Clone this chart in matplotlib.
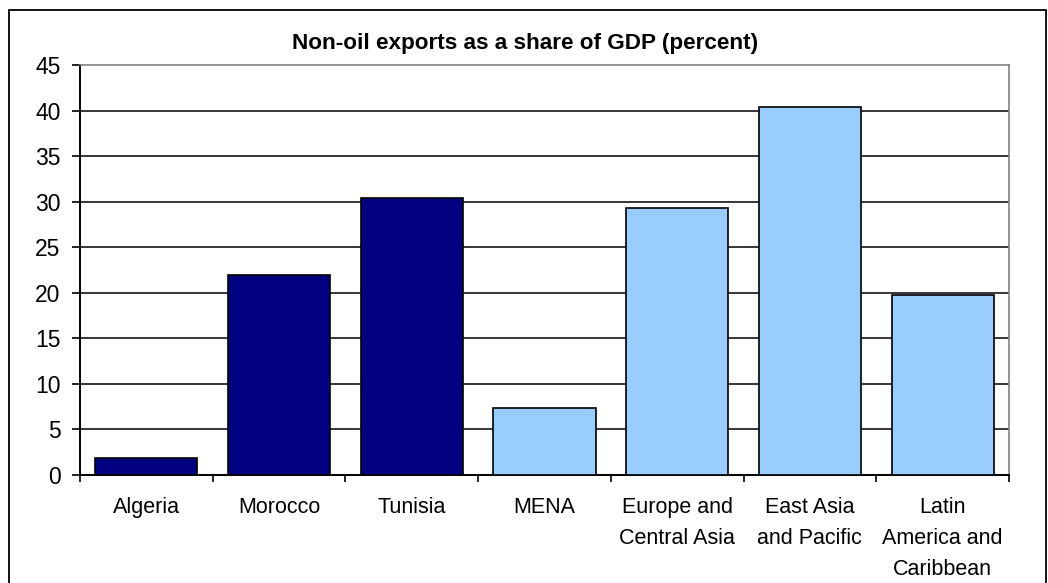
import matplotlib
matplotlib.use("Agg")
import matplotlib.pyplot as plt
from matplotlib.patches import Rectangle

plt.rcParams["font.family"] = ["Liberation Sans", "DejaVu Sans"]

categories = ["Algeria", "Morocco", "Tunisia", "MENA",
              "Europe and\nCentral Asia", "East Asia\nand Pacific",
              "Latin\nAmerica and\nCaribbean"]
values = [1.9, 22.0, 30.4, 7.4, 29.3, 40.4, 19.8]
groups = ["country", "country", "country", "region", "region", "region", "region"]
group_colors = {"country": "#000080", "region": "#99CCFF"}
yticks = list(range(0, 50, 5))

W, H = 1048, 583
fig = plt.figure(figsize=(W / 100, H / 100), dpi=100, facecolor="white")
ax = fig.add_axes([80 / W, 1 - 475 / H, (1009 - 80) / W, (475 - 65) / H])

x = list(range(len(categories)))
ax.bar(x, values, width=0.77, color=[group_colors[g] for g in groups],
       edgecolor="black", linewidth=1.2, zorder=3)

ax.set_xlim(-0.5, len(categories) - 0.5)
ax.set_ylim(0, 45)
ax.set_yticks(yticks)
ax.tick_params(axis="y", labelsize=16.5, length=6, width=1.2, direction="out",
               pad=8)
for v in yticks[1:-1]:
    ax.axhline(v, color="black", linewidth=1.1, zorder=1)

ax.set_xticks([i - 0.5 for i in range(len(categories) + 1)])
ax.set_xticklabels([])
ax.set_xticks(x, minor=True)
ax.set_xticklabels(categories, minor=True, fontsize=15.5, linespacing=1.62,
                   va="top")
ax.tick_params(axis="x", which="major", length=5, width=1.2, direction="out")
ax.tick_params(axis="x", which="minor", length=0, pad=16)

for s in ("left", "bottom"):
    ax.spines[s].set_color("black")
    ax.spines[s].set_linewidth(1.4)
for s in ("top", "right"):
    ax.spines[s].set_color("#808080")
    ax.spines[s].set_linewidth(1.2)

fig.text(525 / W, 1 - 43 / H, "Non-oil exports as a share of GDP (percent)",
         ha="center", va="center", fontsize=16.2, fontweight="bold")

# outer chart border (bottom edge falls outside the image)
fig.patches.append(Rectangle((9 / W, -0.05), (1046 - 9) / W, 1.05 - 10 / H,
                             transform=fig.transFigure, fill=False,
                             edgecolor="black", linewidth=1.3))

fig.savefig("out.png", dpi=100, facecolor="white")
